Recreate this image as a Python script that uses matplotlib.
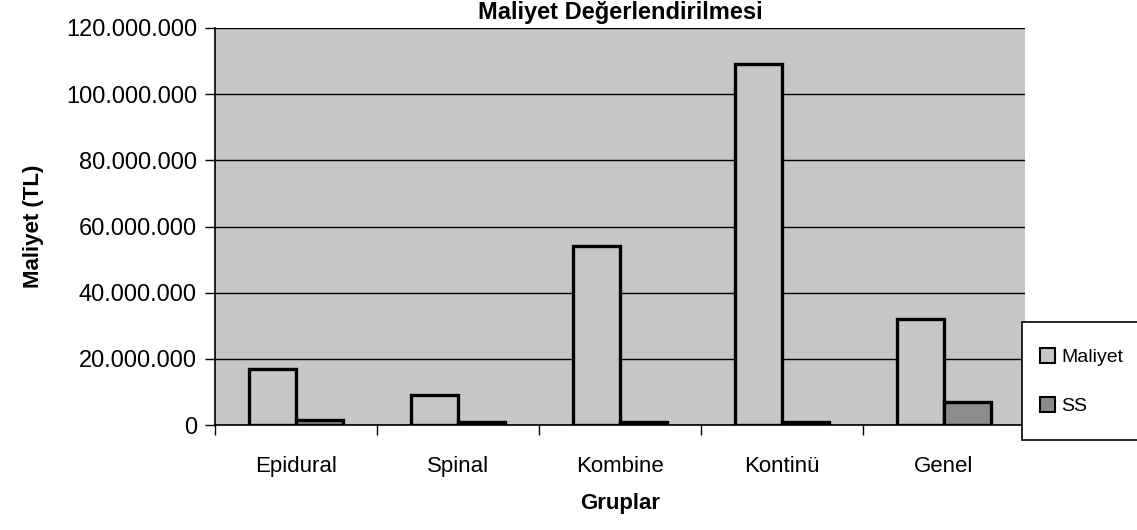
import matplotlib
matplotlib.use('Agg')
import matplotlib.pyplot as plt
import numpy as np
from matplotlib.ticker import FuncFormatter
from matplotlib.patches import Rectangle, Patch

# --- data ---
gruplar = ['Epidural', 'Spinal', 'Kombine', 'Kontinü', 'Genel']
maliyet = [17000000, 9000000, 54000000, 109000000, 32000000]
ss = [1500000, 1000000, 1000000, 1000000, 7000000]
y_ticks = [0, 20000000, 40000000, 60000000, 80000000, 100000000, 120000000]

plt.rcParams['font.family'] = ['Liberation Sans', 'DejaVu Sans']

fig = plt.figure(figsize=(11.37, 5.30), dpi=100)
ax = fig.add_axes([215/1137, 1 - 425/530, 810/1137, 397/530])

bg = '#c6c6c6'
ax.set_facecolor(bg)
x = np.arange(len(gruplar))
w = 0.29
ax.bar(x - w/2, maliyet, w, color=bg, edgecolor='black', linewidth=2.4, zorder=3)
ax.bar(x + w/2, ss, w, color='#8c8c8c', edgecolor='black', linewidth=2.4, zorder=3)

ax.set_xlim(-0.5, len(gruplar) - 0.5)
ax.set_ylim(0, 120000000)
ax.set_yticks(y_ticks)
ax.yaxis.set_major_formatter(FuncFormatter(lambda v, p: f'{int(v):,}'.replace(',', '.')))
ax.yaxis.grid(True, color='black', linewidth=1.0, zorder=1)
ax.set_axisbelow(True)

# category ticks between groups, labels centred
ax.set_xticks(np.arange(-0.5, len(gruplar)), minor=False)
ax.set_xticklabels([])
ax.set_xticks(x, minor=True)
ax.set_xticklabels(gruplar, minor=True, fontsize=16)
ax.tick_params(axis='x', which='minor', length=0, pad=22)
ax.tick_params(axis='x', which='major', length=7, direction='out', width=1)
ax.tick_params(axis='y', length=7, direction='out', width=1, labelsize=17, pad=6)

for s in ['top', 'right']:
    ax.spines[s].set_visible(False)
ax.spines['left'].set_linewidth(1.2)
ax.spines['bottom'].set_linewidth(1.2)

ax.set_ylabel('Maliyet (TL)', fontsize=16, fontweight='bold', labelpad=16)
ax.set_xlabel('Gruplar', fontsize=16, fontweight='bold', labelpad=12)

fig.text(620/1137, 1 - 1/530, 'Maliyet Değerlendirilmesi', ha='center', va='top',
         fontsize=17, fontweight='bold')

# legend box (runs off the right edge as in the scan)
fig.patches.append(Rectangle((1022/1137, 1 - 440/530), 130/1137, 118/530,
                             transform=fig.transFigure, facecolor='white',
                             edgecolor='black', linewidth=1.2, zorder=5))
handles = [Patch(facecolor=bg, edgecolor='black', linewidth=1.5, label='Maliyet'),
           Patch(facecolor='#8c8c8c', edgecolor='black', linewidth=1.5, label='SS')]
leg = fig.legend(handles=handles, loc='upper left', bbox_to_anchor=(1030/1137, 1 - 338/530),
                 frameon=False, fontsize=14, handlelength=0.8, handleheight=0.8,
                 handletextpad=0.3, labelspacing=1.6, borderpad=0)
leg.set_zorder(6)

plt.savefig('out.png', dpi=100)
